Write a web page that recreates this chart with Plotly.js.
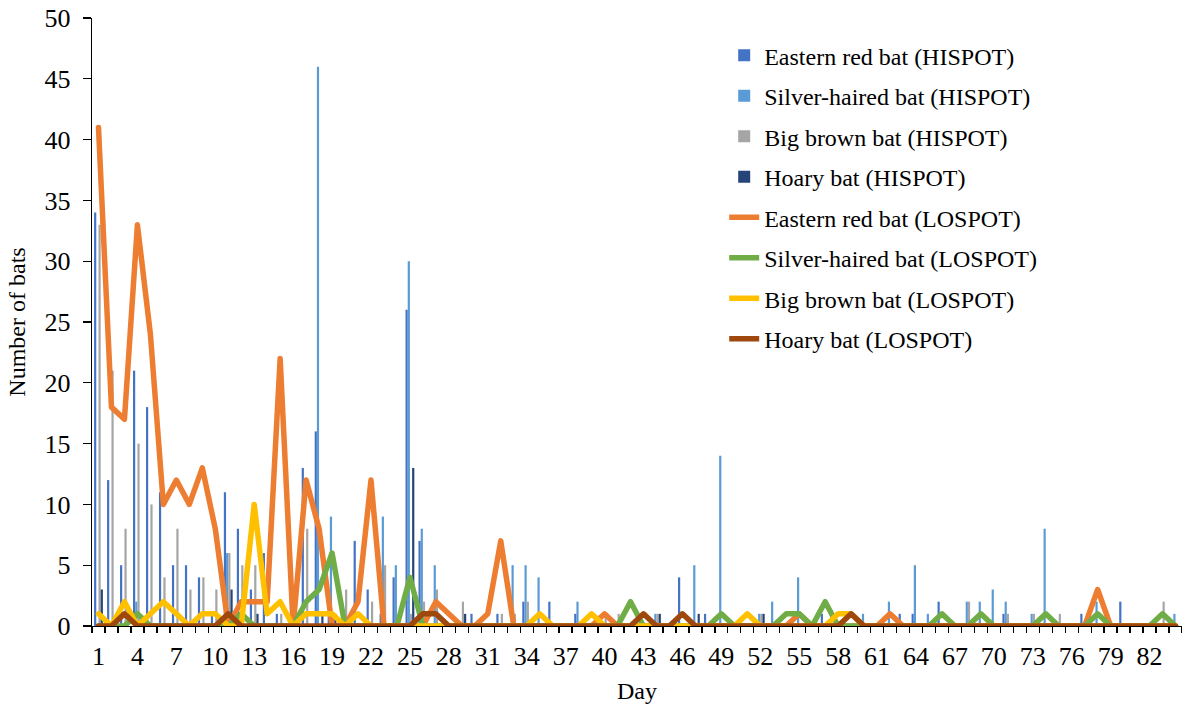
<!DOCTYPE html>
<html>
<head>
<meta charset="utf-8">
<script src="https://cdn.plot.ly/plotly-3.0.1.min.js"></script>
<style>
html,body{margin:0;padding:0;background:#fff;}
#chart{width:1182px;height:712px;}
.scatterlayer .js-line{stroke-linejoin:round;stroke-linecap:round;}
</style>
</head>
<body>
<div id="chart"></div>
<script>
// Day numbers 1..84
var days = [];
for (var d = 1; d <= 84; d++) days.push(d);

var tickDays = [1,4,7,10,13,16,19,22,25,28,31,34,37,40,43,46,49,52,55,58,61,64,67,70,73,76,79,82];

var seriesNames = [
  "Eastern red bat (HISPOT)", "Silver-haired bat (HISPOT)", "Big brown bat (HISPOT)", "Hoary bat (HISPOT)",
  "Eastern red bat (LOSPOT)", "Silver-haired bat (LOSPOT)", "Big brown bat (LOSPOT)", "Hoary bat (LOSPOT)"
];

// HISPOT (bars)
var easternRedHi = [34,12,5,21,18,11,5,5,4,1, 11,8,3,6,1,0,13,16,1,0, 7,3,1,4,26,7,0,0,0,1, 0,1,0,2,0,2,0,1,0,0, 0,0,0,0,0,4,0,1,0,0, 0,0,0,0,0,0,1,0,0,0, 0,0,1,1,0,2,0,0,0,0, 1,0,0,0,0,0,1,0,0,2, 0,0,0,0];
var silverHairedHi = [0,0,0,2,0,0,0,0,0,0, 6,0,0,0,0,0,0,46,9,0, 0,0,9,5,30,8,5,0,0,0, 0,0,5,5,4,0,0,2,0,0, 0,0,0,1,0,0,5,0,14,0, 0,1,2,0,4,0,0,0,0,1, 0,2,0,5,1,0,0,2,2,3, 2,0,1,8,0,0,0,2,0,0, 0,0,0,1];
var bigBrownHi = [33,21,8,15,10,4,8,3,4,3, 6,5,5,0,1,0,8,0,0,3, 0,2,5,0,1,2,3,0,2,0, 0,1,1,2,0,0,0,0,0,1, 1,0,0,1,0,0,0,0,0,0, 0,1,0,0,0,0,0,0,0,0, 0,0,0,0,0,0,0,2,0,0, 1,0,1,0,1,0,0,0,0,0, 0,0,2,0];
var hoaryHi = [3,0,0,0,0,0,0,0,0,0, 3,0,1,0,0,0,0,1,1,0, 0,0,0,0,13,0,0,0,1,0, 0,0,0,0,0,0,0,0,0,0, 0,0,0,1,0,0,1,0,0,0, 0,1,0,0,0,0,0,0,0,0, 0,0,0,0,0,0,0,0,0,0, 0,0,0,0,0,0,0,0,0,0, 0,0,0,0];

// LOSPOT (lines)
var easternRedLo = [41,18,17,33,24,10,12,10,13,8, 0,2,2,2,22,0,12,8,0,0, 2,12,0,0,0,0,2,1,0,0, 1,7,0,0,0,0,0,0,0,1, 0,0,0,0,0,0,0,0,0,0, 0,0,0,0,1,0,0,0,0,0, 0,1,0,0,0,0,0,0,0,0, 0,0,0,0,0,0,0,3,0,0, 0,0,0,0];
var silverHairedLo = [0,0,0,1,0,0,0,0,0,0, 0,1,0,0,0,0,2,3,6,0, 0,0,0,0,4,0,0,0,0,0, 0,0,0,0,0,0,0,0,0,0, 0,2,0,0,0,0,0,0,1,0, 0,0,0,1,1,0,2,0,0,0, 0,0,0,0,0,1,0,0,1,0, 0,0,0,1,0,0,0,1,0,0, 0,0,1,0];
var bigBrownLo = [1,0,2,0,1,2,1,0,1,1, 0,0,10,1,2,0,1,1,1,0, 1,0,0,0,0,0,0,0,0,0, 0,0,0,0,1,0,0,0,1,0, 0,0,0,0,0,0,0,0,0,0, 1,0,0,0,0,0,0,1,1,0, 0,0,0,0,0,0,0,0,0,0, 0,0,0,0,0,0,0,0,0,0, 0,0,0,0];
var hoaryLo = [0,0,1,0,0,0,0,0,0,0, 1,0,0,0,0,0,0,0,0,0, 0,0,0,0,0,1,1,0,0,0, 0,0,0,0,0,0,0,0,0,0, 0,0,1,0,0,1,0,0,0,0, 0,0,0,0,0,0,0,0,1,0, 0,0,0,0,0,0,0,0,0,0, 0,0,0,0,0,0,0,0,0,0, 0,0,0,0];

var barData = [easternRedHi, silverHairedHi, bigBrownHi, hoaryHi];
var lineData = [easternRedLo, silverHairedLo, bigBrownLo, hoaryLo];
var barColors = ["#4472C4", "#5B9BD5", "#A5A5A5", "#264478"];
var lineColors = ["#ED7D31", "#70AD47", "#FFC000", "#9E480E"];

var traces = [];
barData.forEach(function (vals, i) {
  traces.push({
    type: "bar", x: days, y: vals, name: seriesNames[i],
    marker: {color: barColors[i], line: {width: 0}},
    legendgroup: "g" + i, hoverinfo: "x+y+name"
  });
});
lineData.forEach(function (vals, i) {
  traces.push({
    type: "scatter", mode: "lines", x: days, y: vals, name: seriesNames[i + 4],
    line: {color: lineColors[i], width: 5.5},
    legendgroup: "g" + (i + 4), hoverinfo: "x+y+name"
  });
});

var fontFam = "Liberation Serif, Times New Roman, serif";
var layout = {
  width: 1182, height: 712,
  margin: {l: 92, r: 0, t: 18, b: 86},
  paper_bgcolor: "#fff", plot_bgcolor: "#fff",
  font: {family: fontFam, color: "#000", size: 24},
  barmode: "group", bargap: 0.32, bargroupgap: 0,
  showlegend: true,
  legend: {
    x: 0.58, y: 0.975, xanchor: "left", yanchor: "top",
    font: {family: fontFam, size: 24, color: "#000"},
    tracegroupgap: 6.3, bgcolor: "rgba(0,0,0,0)", traceorder: "grouped"
  },
  xaxis: {
    type: "linear", range: [0.5, 84.5],
    tickmode: "array", tickvals: tickDays, ticktext: tickDays.map(String),
    ticks: "", showgrid: false, zeroline: false,
    showline: true, linecolor: "#000", linewidth: 1.3,
    tickfont: {family: fontFam, size: 26, color: "#000"},
    ticklabelstandoff: 6,
    minor: {tickmode: "linear", tick0: 0.5, dtick: 1, ticks: "outside", ticklen: 6, tickwidth: 1.3, tickcolor: "#000", showgrid: false},
    title: {text: "Day", font: {family: fontFam, size: 24, color: "#000"}, standoff: 12}
  },
  yaxis: {
    range: [0, 50], tickmode: "linear", tick0: 0, dtick: 5,
    ticks: "outside", ticklen: 8, tickwidth: 1.3, tickcolor: "#000",
    showgrid: false, zeroline: false,
    showline: true, linecolor: "#000", linewidth: 1.3,
    tickfont: {family: fontFam, size: 26, color: "#000"},
    ticklabelstandoff: 7,
    title: {text: "Number of bats", font: {family: fontFam, size: 24, color: "#000"}, standoff: 12}
  }
};

Plotly.newPlot("chart", traces, layout, {displayModeBar: false, staticPlot: true});
</script>
</body>
</html>
